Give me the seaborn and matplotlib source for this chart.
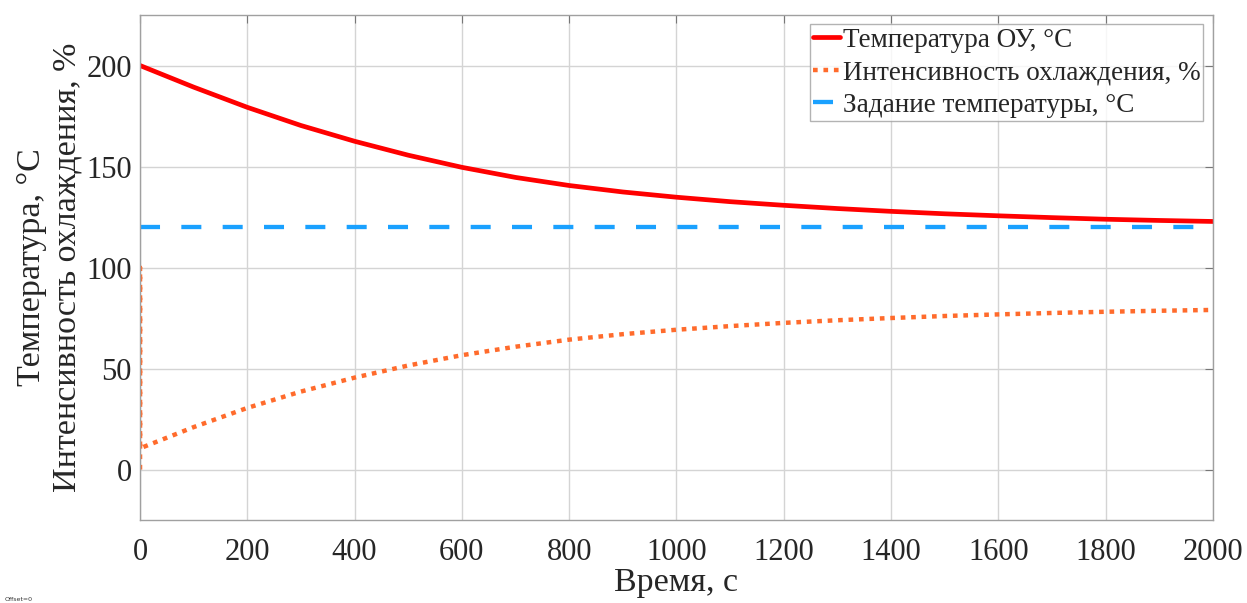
import numpy as np
import pandas as pd
import matplotlib
matplotlib.use("Agg")
import matplotlib.pyplot as plt
import seaborn as sns

# Data
time_s = [0, 100, 200, 300, 400, 500, 600, 700, 800, 900, 1000, 1100, 1200,
          1300, 1400, 1500, 1600, 1700, 1800, 1900, 2000]
temp_c = [200, 189.3, 179.3, 170.3, 162.5, 155.6, 149.6, 144.6, 140.6, 137.4, 134.8, 132.6,
          130.8, 129.2, 127.8, 126.6, 125.6, 124.7, 123.9, 123.3, 122.8]
cool_time = [0, 0, 0, 100, 200, 300, 400, 500, 600, 700, 800, 900, 1000, 1100, 1200,
             1300, 1400, 1500, 1600, 1700, 1800, 1900, 2000]
cool_pct = [0, 100, 10.5, 21.0, 30.5, 38.6, 45.5, 51.5, 56.6, 60.8, 64.3, 67.0, 69.2, 71.0,
            72.6, 73.9, 75.0, 76.0, 76.8, 77.5, 78.1, 78.6, 79.0]
set_time = [0, 2000]
set_temp = [120, 120]

labels = ["Температура ОУ, °С", "Интенсивность охлаждения, %", "Задание температуры, °С"]
xticks = list(range(0, 2001, 200))
yticks = [0, 50, 100, 150, 200]

sns.set_style("white")
plt.rcParams["font.family"] = ["Liberation Serif", "DejaVu Serif"]

fig = plt.figure(figsize=(12.47, 6.03), dpi=100)
ax = fig.add_axes([0.1123, 0.1376, 0.8604, 0.8375])

df_t = pd.DataFrame({"t": time_s, "v": temp_c})
df_c = pd.DataFrame({"t": cool_time, "v": cool_pct})
df_s = pd.DataFrame({"t": set_time, "v": set_temp})

sns.lineplot(data=df_t, x="t", y="v", ax=ax, color="#FF0000", lw=3.4,
             sort=False, estimator=None, label=labels[0])
sns.lineplot(data=df_c, x="t", y="v", ax=ax, color="#FF6B2C", lw=3.2,
             sort=False, estimator=None, label=labels[1], linestyle=(0, (1.05, 1.3)))
sns.lineplot(data=df_s, x="t", y="v", ax=ax, color="#1AA1FF", lw=3.1,
             sort=False, estimator=None, label=labels[2], linestyle=(0, (4.65, 4.95)))

ax.set_xlim(0, 2000)
ax.set_ylim(-25, 225)
ax.set_xticks(xticks)
ax.set_yticks(yticks)
ax.grid(True, color="#D4D4D4", lw=1.0)
ax.tick_params(axis="both", direction="in", labelsize=22, length=6, color="#777777",
               labelcolor="#262626", top=True, right=True, pad=6)
ax.tick_params(axis="x", pad=13)
for s in ax.spines.values():
    s.set_color("#A0A0A0")
    s.set_linewidth(1.0)

ax.set_xlabel("Время, с", fontsize=24.5, color="#262626", labelpad=0)
ax.set_ylabel("Температура, °С\nИнтенсивность охлаждения, %", fontsize=24.5,
              color="#262626", linespacing=1.2)
ax.yaxis.set_label_coords(-0.054, 0.5)

leg = ax.legend(loc="upper right", fontsize=19.5, handlelength=1.0, handletextpad=0.1,
                borderpad=0.12, labelspacing=0.28, borderaxespad=0.35,
                frameon=True, fancybox=False, edgecolor="#A0A0A0")
leg.get_frame().set_linewidth(1.0)
for t in leg.get_texts():
    t.set_color("#262626")

fig.text(0.004, 0.003, "Offset=0", fontsize=4.5, family="DejaVu Sans", color="#333333")

fig.savefig("out.png", dpi=100)
